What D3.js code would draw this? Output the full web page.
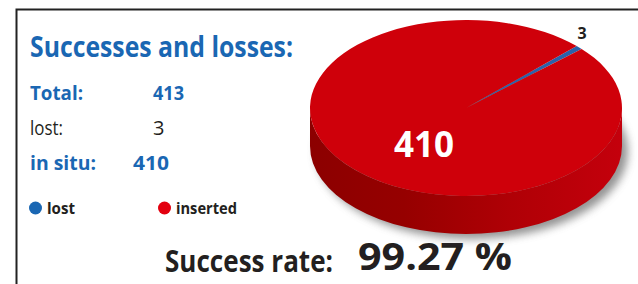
<!DOCTYPE html>
<html>
<head>
<meta charset="utf-8">
<script src="https://cdn.jsdelivr.net/npm/d3@7"></script>
<style>
  body { margin: 0; background: #fff; }
  svg { display: block; font-family: "Open Sans", "Noto Sans", sans-serif; }
</style>
</head>
<body>
<svg width="638" height="284"></svg>
<script>
// data
var categories = ["lost", "inserted"];
var values = [3, 410];
var summaryLabels = ["Total:", "lost:", "in situ:"];
var summaryValues = [413, 3, 410];
var successRate = "99.27 %";

var blue = "#1a67b3",
    red = "#e3000f",
    dark = "#231f20";

var svg = d3.select("svg");

// frame: top and left rules
svg.append("path")
    .attr("d", "M16.5,284 V9.5 H638")
    .attr("fill", "none")
    .attr("stroke", "#222")
    .attr("stroke-width", 2);

// title
svg.append("text")
    .attr("x", 30).attr("y", 57)
    .attr("fill", blue)
    .attr("font-size", 28).attr("font-weight", 700)
    .attr("textLength", 263).attr("lengthAdjust", "spacingAndGlyphs")
    .text("Successes and losses:");

// summary rows
var rowY = d3.scalePoint().domain(summaryLabels).range([100, 170]);
var rowStyle = [
    {fill: blue, weight: 700, lw: 53, vx: 153, vw: 31},
    {fill: dark, weight: 400, lw: 33, vx: 153, vw: 10},
    {fill: blue, weight: 700, lw: 66, vx: 133, vw: 36}
];
summaryLabels.forEach(function(lab, i) {
    var s = rowStyle[i];
    svg.append("text")
        .attr("x", 30).attr("y", rowY(lab))
        .attr("fill", s.fill).attr("font-size", 20).attr("font-weight", s.weight)
        .attr("textLength", s.lw).attr("lengthAdjust", "spacingAndGlyphs")
        .text(lab);
    var v = String(summaryValues[i]);
    var t = svg.append("text")
        .attr("x", s.vx).attr("y", rowY(lab))
        .attr("fill", s.fill).attr("font-size", 20).attr("font-weight", s.weight)
        .text(v);
    if (v.length > 1) t.attr("textLength", s.vw).attr("lengthAdjust", "spacingAndGlyphs");
});

// legend
var legendX = d3.scaleOrdinal().domain(categories).range([35.5, 164.5]);
var legendColor = d3.scaleOrdinal().domain(categories).range([blue, red]);
var legendW = {lost: 28, inserted: 61};
var lg = svg.append("g").selectAll("g").data(categories).enter().append("g")
    .attr("transform", function(d) { return "translate(" + legendX(d) + ",208)"; });
lg.append("circle").attr("r", 6.5).attr("fill", function(d) { return legendColor(d); });
lg.append("text")
    .attr("x", 11.5).attr("y", 5.5)
    .attr("fill", dark).attr("font-size", 16).attr("font-weight", 700)
    .attr("textLength", function(d) { return legendW[d]; })
    .attr("lengthAdjust", "spacingAndGlyphs")
    .text(function(d) { return d; });

// success rate
svg.append("text")
    .attr("x", 165).attr("y", 272)
    .attr("fill", dark).attr("font-size", 31).attr("font-weight", 700)
    .attr("textLength", 168).attr("lengthAdjust", "spacingAndGlyphs")
    .text("Success rate:");
svg.append("text")
    .attr("x", 358).attr("y", 270)
    .attr("fill", dark).attr("font-size", 38).attr("font-weight", 700)
    .attr("textLength", 154).attr("lengthAdjust", "spacingAndGlyphs")
    .text(successRate);

// 3D pie
var cx = 466, cy = 108, rx = 156, ry = 88, depth = 38;

function pt(a, dy) {
    return [cx + rx * Math.sin(a), cy - ry * Math.cos(a) + (dy || 0)];
}

var defs = svg.append("defs");
var blur = defs.append("filter").attr("id", "shadow")
    .attr("x", "-20%").attr("y", "-20%").attr("width", "140%").attr("height", "140%");
blur.append("feGaussianBlur").attr("stdDeviation", 4.5);

var sideGrad = defs.append("linearGradient").attr("id", "side")
    .attr("x1", 0).attr("x2", 1).attr("y1", 0).attr("y2", 0);
sideGrad.append("stop").attr("offset", "0%").attr("stop-color", "#8c0000");
sideGrad.append("stop").attr("offset", "30%").attr("stop-color", "#960000");
sideGrad.append("stop").attr("offset", "65%").attr("stop-color", "#b00006");
sideGrad.append("stop").attr("offset", "100%").attr("stop-color", "#c4000c");

var pieG = svg.append("g");

// drop shadow
pieG.append("ellipse")
    .attr("cx", cx + 6).attr("cy", cy + depth + 5)
    .attr("rx", rx).attr("ry", ry)
    .attr("fill", "#666").attr("opacity", 0.7)
    .attr("filter", "url(#shadow)");

// side wall (front half)
var L = pt(-Math.PI / 2), R = pt(Math.PI / 2);
pieG.append("path")
    .attr("d", "M" + R[0] + "," + R[1] +
        " A" + rx + "," + ry + " 0 0 1 " + L[0] + "," + L[1] +
        " L" + L[0] + "," + (L[1] + depth) +
        " A" + rx + "," + ry + " 0 0 0 " + R[0] + "," + (R[1] + depth) + " Z")
    .attr("fill", "url(#side)");

// top face slices
var start = 45.2 * Math.PI / 180;
var pie = d3.pie().sort(null).startAngle(start).endAngle(start + 2 * Math.PI);
var arcs = pie(values);
var sliceColor = d3.scaleOrdinal().domain(categories).range(["#2a62ab", "#cf000a"]);

pieG.selectAll(".slice").data(arcs).enter().append("path")
    .attr("class", "slice")
    .attr("fill", function(d, i) { return sliceColor(categories[i]); })
    .attr("d", function(d) {
        var p0 = pt(d.startAngle), p1 = pt(d.endAngle);
        var large = d.endAngle - d.startAngle > Math.PI ? 1 : 0;
        return "M" + cx + "," + cy + " L" + p0[0] + "," + p0[1] +
            " A" + rx + "," + ry + " 0 " + large + " 1 " + p1[0] + "," + p1[1] + " Z";
    });

// slice labels
pieG.selectAll(".lab").data(arcs).enter().append("text")
    .attr("class", "lab")
    .attr("text-anchor", "middle")
    .attr("font-weight", 700)
    .attr("fill", function(d, i) { return i === 0 ? dark : "#fff"; })
    .attr("font-size", function(d, i) { return i === 0 ? 16 : 35; })
    .attr("x", function(d, i) {
        var a = (d.startAngle + d.endAngle) / 2;
        return i === 0 ? cx + (rx + 4) * Math.sin(a) : cx + rx * 0.37 * Math.sin(a);
    })
    .attr("y", function(d, i) {
        var a = (d.startAngle + d.endAngle) / 2;
        return i === 0 ? cy - (ry + 14) * Math.cos(a) + 1 : cy - ry * 0.6 * Math.cos(a) + 12.5;
    })
    .text(function(d) { return d.data; });
</script>
</body>
</html>
